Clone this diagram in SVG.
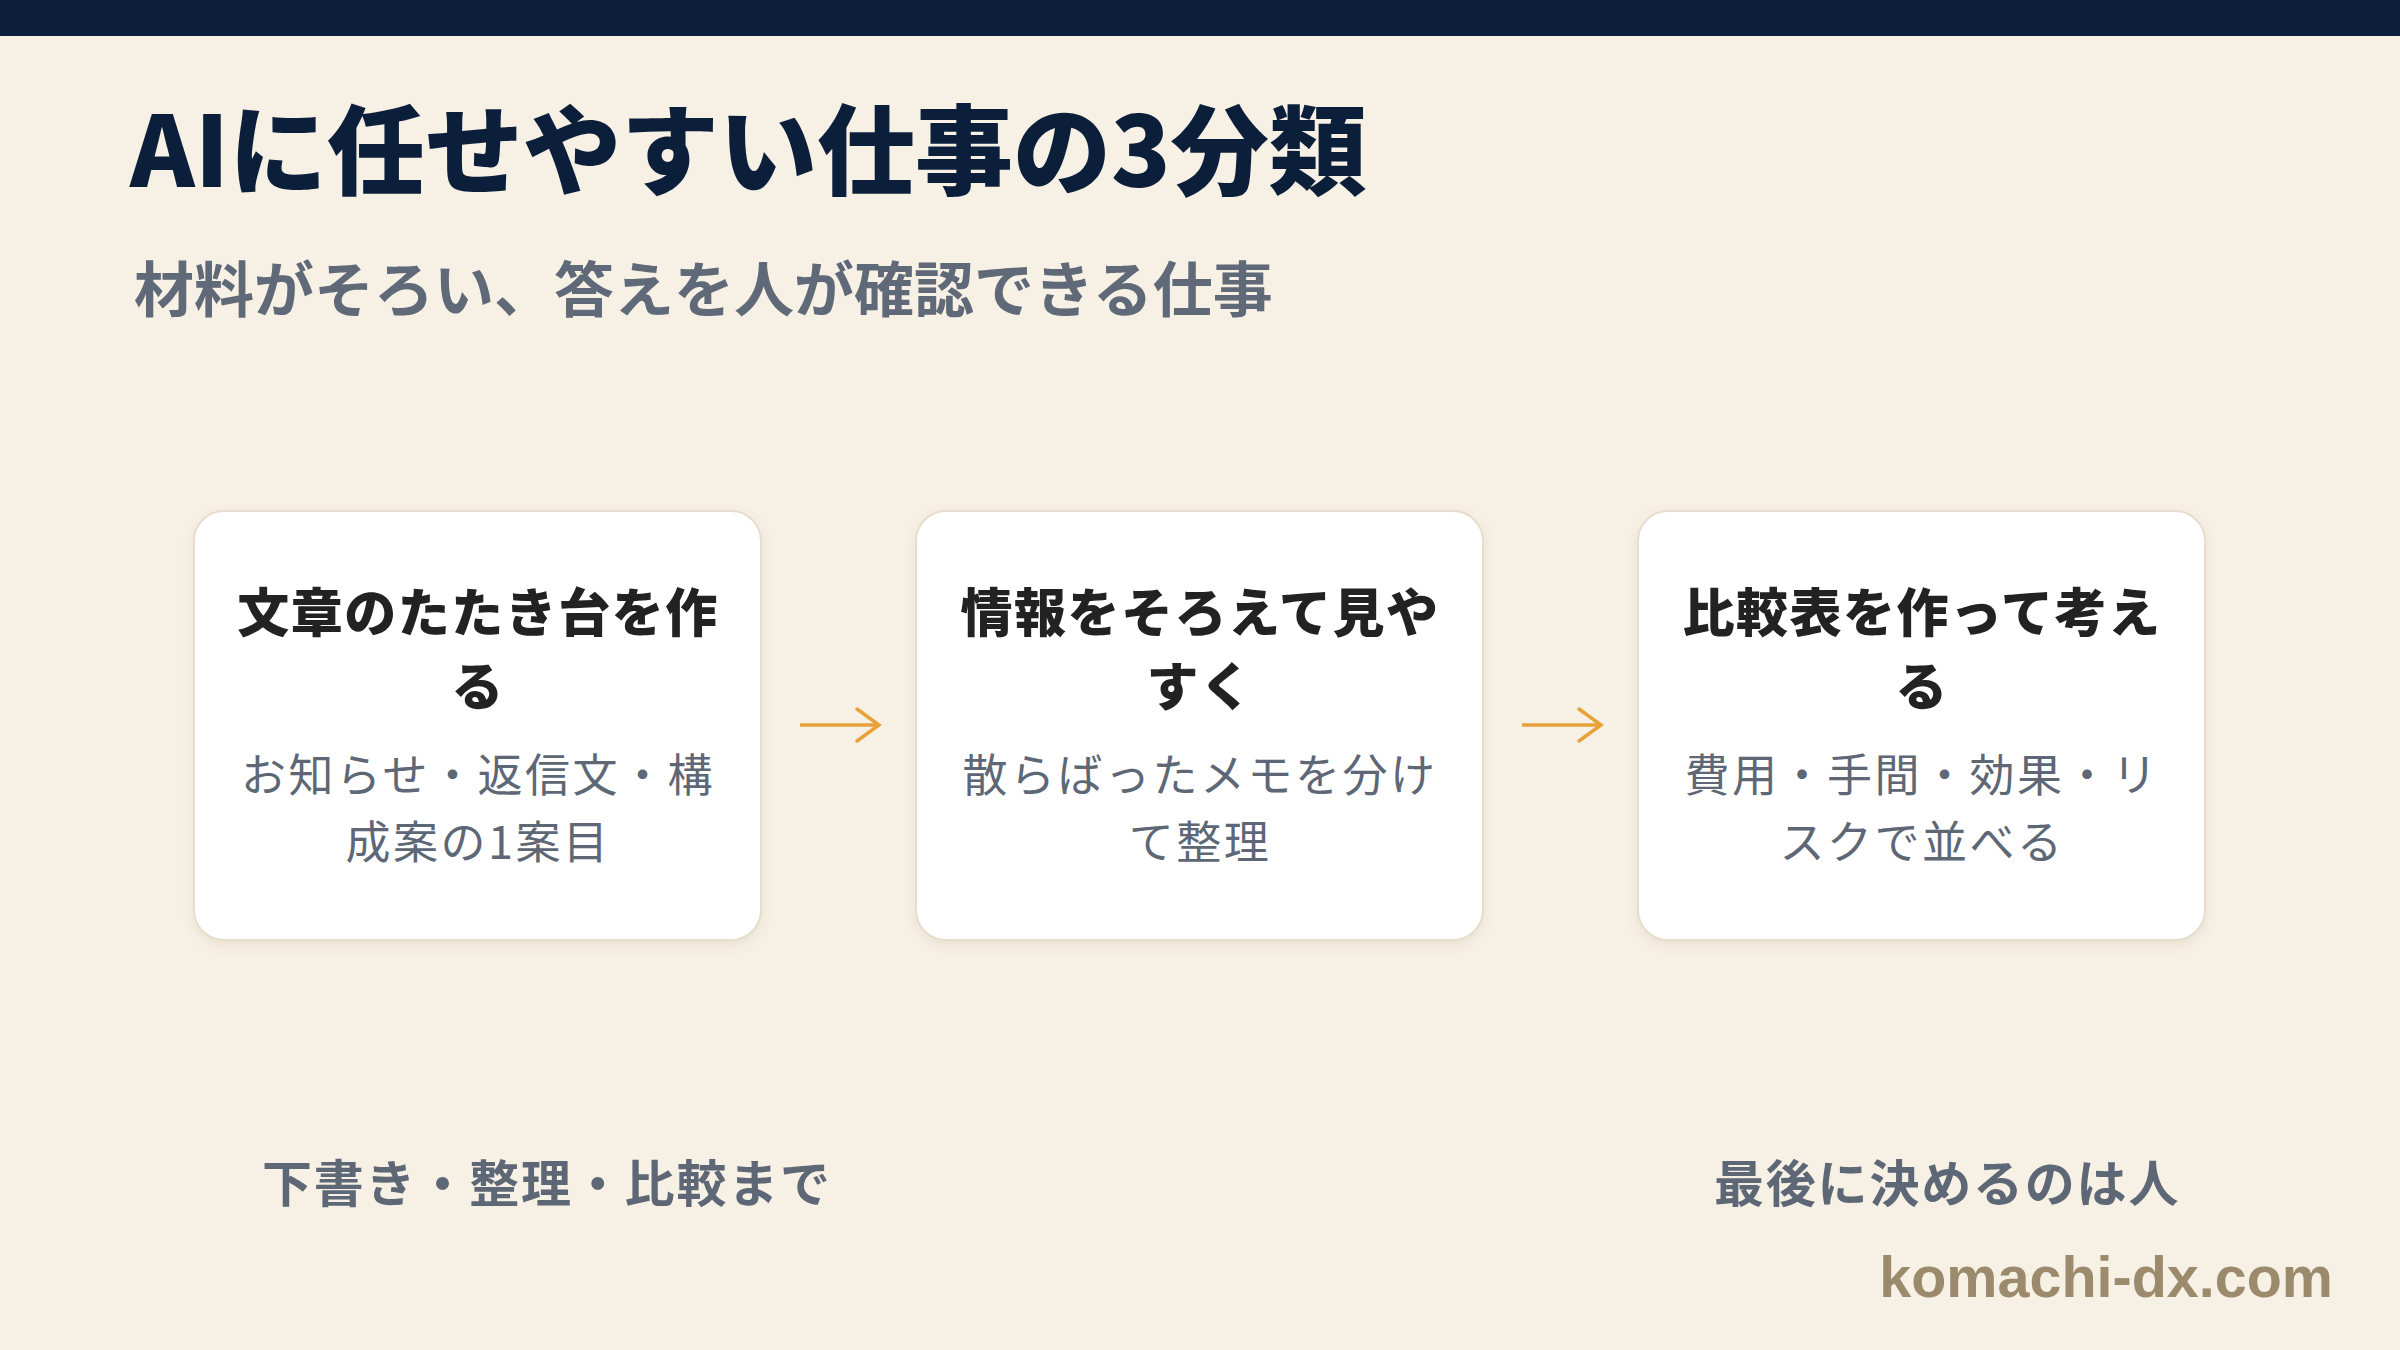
<svg xmlns="http://www.w3.org/2000/svg" width="2400" height="1350" viewBox="0 0 2400 1350">
  <defs>
    <style>
      .jp { font-family: "Noto Sans CJK JP", "Noto Sans", sans-serif; }
      .title { font-size: 98px; font-weight: 900; fill: #0b1f3a; letter-spacing: 0px; }
      .subtitle { font-size: 60px; font-weight: 700; fill: #5f6978; letter-spacing: 0px; }
      .card { fill: #ffffff; stroke: #e6ddcc; stroke-width: 2; filter: url(#shadow); }
      .ctitle { font-size: 52px; font-weight: 900; fill: #222222; text-anchor: middle; letter-spacing: 1.5px; }
      .csub { font-size: 45px; font-weight: 400; fill: #5d6775; text-anchor: middle; letter-spacing: 2.5px; }
      .note { font-size: 50px; font-weight: 700; fill: #5d6775; letter-spacing: 1.8px; }
      .conn { stroke: #e8a23a; stroke-width: 3.5; fill: none; marker-end: url(#chev); }
      .brand { font-family: "Liberation Sans", Arial, sans-serif; font-size: 57.5px; font-weight: 700; fill: #9b8a6b; text-anchor: end; }
    </style>
    <filter id="shadow" x="-10%" y="-10%" width="120%" height="125%">
      <feDropShadow dx="0" dy="4" stdDeviation="6" flood-color="#8a7350" flood-opacity="0.12"/>
    </filter>
    <marker id="chev" viewBox="0 0 30 40" refX="26" refY="20" markerWidth="30" markerHeight="40" markerUnits="userSpaceOnUse" orient="auto">
      <path d="M4 4 L26 20 L4 36" fill="none" stroke="#e8a23a" stroke-width="3.5" stroke-linecap="round" stroke-linejoin="miter"/>
    </marker>
  </defs>

  <rect x="0" y="0" width="2400" height="1350" fill="#f7f0e5"/>
  <rect x="0" y="0" width="2400" height="36" fill="#0b1f3a"/>

  <g id="header">
    <text class="jp title" x="130" y="187">AIに任せやすい仕事の3分類</text>
    <text class="jp subtitle" x="134" y="312">材料がそろい、答えを人が確認できる仕事</text>
  </g>

  <g id="connectors">
    <path class="conn" d="M800 725 L879 725"/>
    <path class="conn" d="M1522 725 L1601 725"/>
  </g>

  <g id="node1">
    <rect class="card" x="194" y="511" width="567" height="429" rx="30"/>
    <text class="jp ctitle" x="478" y="632">文章のたたき台を作</text>
    <text class="jp ctitle" x="478" y="706">る</text>
    <text class="jp csub" x="478" y="792">お知らせ・返信文・構</text>
    <text class="jp csub" x="478" y="859">成案の1案目</text>
  </g>

  <g id="node2">
    <rect class="card" x="916" y="511" width="567" height="429" rx="30"/>
    <text class="jp ctitle" x="1200" y="632">情報をそろえて見や</text>
    <text class="jp ctitle" x="1200" y="706">すく</text>
    <text class="jp csub" x="1200" y="792">散らばったメモを分け</text>
    <text class="jp csub" x="1200" y="859">て整理</text>
  </g>

  <g id="node3">
    <rect class="card" x="1638" y="511" width="567" height="429" rx="30"/>
    <text class="jp ctitle" x="1922" y="632">比較表を作って考え</text>
    <text class="jp ctitle" x="1922" y="706">る</text>
    <text class="jp csub" x="1922" y="792">費用・手間・効果・リ</text>
    <text class="jp csub" x="1922" y="859">スクで並べる</text>
  </g>

  <g id="notes">
    <text class="jp note" x="262" y="1202">下書き・整理・比較まで</text>
    <text class="jp note" x="1714" y="1202">最後に決めるのは人</text>
  </g>

  <text class="brand" x="2333" y="1297">komachi-dx.com</text>
</svg>
